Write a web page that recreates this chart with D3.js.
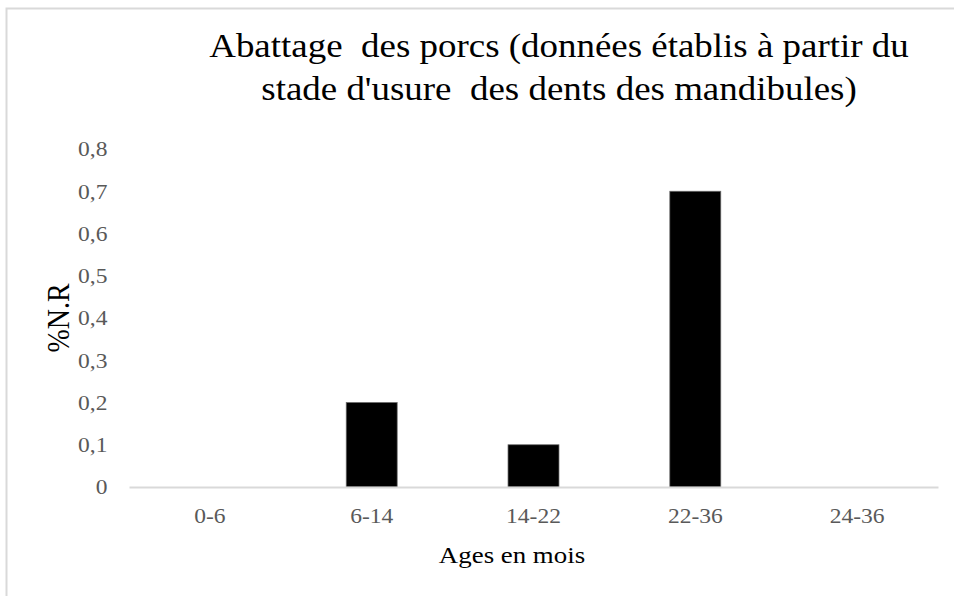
<!DOCTYPE html>
<html><head><meta charset="utf-8">
<script src="https://cdn.jsdelivr.net/npm/d3@7"></script>
<style>body{margin:0;background:#fff}svg{display:block}svg text{font-family:"Liberation Serif","Times New Roman",serif}</style>
</head><body>
<script>
const categories = ["0-6","6-14","14-22","22-36","24-36"];
const values = [0, 0.2, 0.1, 0.7, 0];
const yTicks = [0,0.1,0.2,0.3,0.4,0.5,0.6,0.7,0.8];
const titleLines = ["Abattage  des porcs (données établis à partir du", "stade d'usure  des dents des mandibules)"];
const yTitle = "%N.R";
const xTitle = "Ages en mois";

const W = 954, H = 596, SX = 1.12;
const m = {left:129, right:16, top:149, bottom:109};
const svg = d3.select("body").append("svg").attr("width",W).attr("height",H);
svg.append("rect").attr("x",6.5).attr("y",8.5).attr("width",W+10).attr("height",H+10)
  .attr("fill","#fff").attr("stroke","#d9d9d9").attr("stroke-width",2);

const x = d3.scaleBand().domain(categories).range([m.left, W-m.right]).paddingInner(0.685).paddingOuter(0.3425);
const y = d3.scaleLinear().domain([0,0.8]).range([H-m.bottom, m.top]);

function addText(px, py, str, size, fill, rot) {
  const g = svg.append("g").attr("transform", `translate(${px},${py}) scale(${SX},1)` + (rot ? ` rotate(${rot})` : ""));
  return g.append("text").attr("text-anchor","middle").attr("font-size",size).attr("fill",fill)
    .style("white-space","pre").text(str);
}

titleLines.forEach((t,i)=> addText(559, 57 + i*43, t, 33, "#000"));

const yAxis = svg.append("g").attr("transform",`translate(${m.left},0)`)
  .call(d3.axisLeft(y).tickValues(yTicks).tickSize(0).tickFormat(d=>d3.format(".1~f")(d).replace(".",",")));
yAxis.attr("font-family",null);
yAxis.select(".domain").remove();
yAxis.selectAll("text").attr("font-size",21).attr("fill","#595959")
  .attr("x",-21.5/SX).attr("dy","0.33em").attr("transform",`scale(${SX},1)`);

svg.selectAll("rect.bar").data(values).join("rect").attr("class","bar")
  .attr("x",(d,i)=>x(categories[i])).attr("width",x.bandwidth())
  .attr("y",d=>y(d)).attr("height",d=>y(0)-y(d))
  .attr("fill","#000").attr("stroke","#6b6b6b").attr("stroke-width",0.75);

const xAxis = svg.append("g").attr("transform",`translate(0,${y(0)})`)
  .call(d3.axisBottom(x).tickSize(0));
xAxis.attr("font-family",null);
xAxis.select(".domain").attr("stroke","#d9d9d9").attr("stroke-width",2);
xAxis.selectAll("text").attr("font-size",21).attr("fill","#595959")
  .attr("y",36).attr("dy",0).attr("transform",`scale(${SX},1)`);

addText(69, (y(0)+y(0.8))/2, yTitle, 28, "#000", -90);
addText(512, 563, xTitle, 24, "#000");
</script>
</body></html>
